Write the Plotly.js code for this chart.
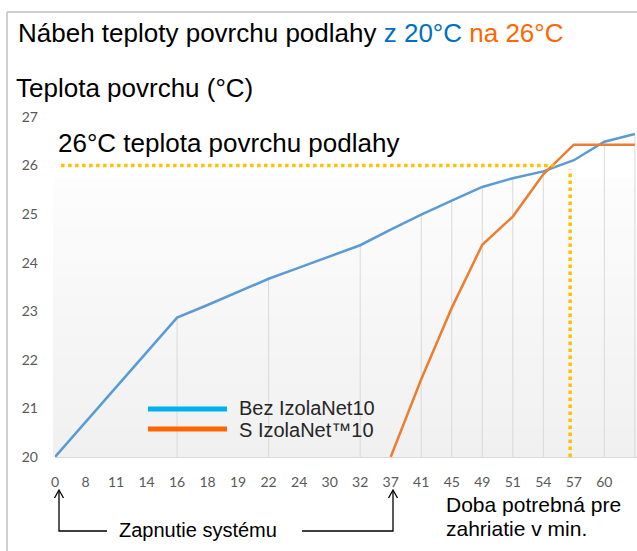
<!DOCTYPE html>
<html><head><meta charset="utf-8">
<script src="https://cdn.plot.ly/plotly-3.0.1.min.js"></script>
<style>html,body{margin:0;padding:0;background:#fff}</style>
</head><body><div id="chart" style="width:637px;height:551px"></div>
<script>
// ---- data ----
const minutes = ['0','8','11','14','16','18','19','22','24','30','32','37','41','45','49','51','54','57','60',''];
const bezIzolaNet = [20, 20.72, 21.44, 22.15, 22.87, 23.13, 23.4, 23.67, 23.9, 24.13, 24.36, 24.68, 24.99, 25.28, 25.56, 25.74, 25.88, 26.11, 26.49, 26.65];
const sIzolaNet = [null, null, null, null, null, null, null, null, null, null, null, 20, 21.6, 23.07, 24.37, 24.95, 25.82, 26.43, 26.43, 26.43];
const dropLineMinutes = ['16','22','32','41','45','49','51','54','60',''];
const yTicks = [20, 21, 22, 23, 24, 25, 26, 27];
const targetTemp = 26;
const seriesNames = ['Bez IzolaNet10', 'S IzolaNet™10'];

// ---- geometry helpers (pixel -> paper) ----
const W = 637, H = 551, L = 55, R = 0, T = 117, B = 94;
const PW = W - L - R, PH = H - T - B;
const px = x => (x - L) / PW;
const py = y => (H - B - y) / PH;

const idx = minutes.map((_, i) => i);
const font = 'Liberation Sans, Arial, sans-serif';
const tickFont = 'Lato, Carlito, Calibri, sans-serif';

const traces = [
  {x: idx, y: bezIzolaNet, mode: 'lines', name: seriesNames[0], line: {color: '#5B9BD5', width: 2.5}, showlegend: false, hoverinfo: 'skip'},
  {x: idx, y: sIzolaNet, mode: 'lines', name: seriesNames[1], line: {color: '#ED7D31', width: 2.5}, showlegend: false, hoverinfo: 'skip'}
];

const shapes = [];
// soft gradient plot background
const bgTop = 177, bgBot = 457, nb = 28;
for (let i = 0; i < nb; i++) {
  const y0 = bgTop + (bgBot - bgTop) * i / nb, y1 = bgTop + (bgBot - bgTop) * (i + 1) / nb;
  const c = Math.round(253 - (253 - 240) * (i + 0.5) / nb);
  shapes.push({type: 'rect', xref: 'paper', yref: 'paper', x0: px(53), x1: px(640), y0: py(y1), y1: py(y0),
    fillcolor: `rgb(${c},${c},${c})`, line: {width: 0}, layer: 'below'});
}
// drop lines from the blue series
dropLineMinutes.forEach(m => {
  const i = minutes.indexOf(m);
  shapes.push({type: 'line', xref: 'x', yref: 'y', x0: i, x1: i, y0: yTicks[0], y1: bezIzolaNet[i],
    line: {color: '#d9d9d9', width: 1}, layer: 'below'});
});
// target dotted lines
shapes.push({type: 'line', xref: 'x', yref: 'y', x0: 0.2, x1: 16.44, y0: targetTemp, y1: targetTemp,
  line: {color: '#FFC000', width: 3.5, dash: '3.5px,3.5px'}});
shapes.push({type: 'line', xref: 'x', yref: 'y', x0: 16.88, x1: 16.88, y0: yTicks[0], y1: 25.92,
  line: {color: '#FFC000', width: 3.5, dash: '3.5px,3.5px'}});
// frame
shapes.push({type: 'line', xref: 'paper', yref: 'paper', x0: px(7), x1: px(640), y0: py(12), y1: py(12), line: {color: '#c0c0c0', width: 1.5}});
shapes.push({type: 'line', xref: 'paper', yref: 'paper', x0: px(7), x1: px(7), y0: py(12), y1: py(555), line: {color: '#c0c0c0', width: 1.5}});
// legend samples
shapes.push({type: 'line', xref: 'paper', yref: 'paper', x0: px(148), x1: px(227), y0: py(409), y1: py(409), line: {color: '#00B0F0', width: 5}});
shapes.push({type: 'line', xref: 'paper', yref: 'paper', x0: px(148), x1: px(227), y0: py(429), y1: py(429), line: {color: '#FF6600', width: 5}});
// arrows
function arrow(xa, xb, yTip, yBot) {
  shapes.push({type: 'path', xref: 'paper', yref: 'paper',
    path: `M${px(xa)},${py(yTip + 1)} L${px(xa)},${py(yBot)} L${px(xb)},${py(yBot)}`, line: {color: '#000', width: 1.3}});
  shapes.push({type: 'path', xref: 'paper', yref: 'paper',
    path: `M${px(xa - 4.5)},${py(yTip + 8)} L${px(xa)},${py(yTip)} L${px(xa + 4.5)},${py(yTip + 8)}`, line: {color: '#000', width: 1.3}});
}
arrow(59, 107, 490, 531);
arrow(393, 302, 490, 531);

const ann = (x, y, text, size, color) => ({xref: 'paper', yref: 'paper', x: px(x), y: py(y), text, showarrow: false,
  xanchor: 'left', yanchor: 'middle', font: {family: font, size, color: color || '#000'}});

const annotations = [
  ann(14, 88, 'Teplota povrchu (°C)', 26),
  ann(56, 143, '26°C teplota povrchu podlahy', 26),
  ann(237, 408, seriesNames[0], 20, '#262626'),
  ann(237, 430, seriesNames[1], 20, '#262626'),
  ann(117, 530, 'Zapnutie systému', 20),
  ann(444, 504, 'Doba potrebná pre', 21),
  ann(444, 528, 'zahriatie v min.', 21)
];

const layout = {
  width: W, height: H,
  margin: {l: L, r: R, t: T, b: B, pad: 0},
  paper_bgcolor: '#fff', plot_bgcolor: 'rgba(0,0,0,0)',
  showlegend: false,
  title: {text: 'Nábeh teploty povrchu podlahy <span style="color:#0070C0">z 20°C</span> <span style="color:#FF6600">na 26°C</span>',
    x: 18 / W, xanchor: 'left', xref: 'container', y: 1 - 33 / H, yanchor: 'middle', yref: 'container',
    font: {family: font, size: 26, color: '#000'}},
  xaxis: {range: [0, idx.length - 1 + 0.07], tickvals: idx, ticktext: minutes, showgrid: false, zeroline: false,
    showline: true, linecolor: '#d9d9d9', linewidth: 1, ticks: '', ticklabelstandoff: 12,
    tickfont: {family: tickFont, size: 14, color: '#595959'}, fixedrange: true},
  yaxis: {range: [20, 27], tickvals: yTicks, showgrid: false, zeroline: false, showline: false, ticks: '',
    ticklabelstandoff: 16, tickfont: {family: tickFont, size: 14, color: '#595959'}, fixedrange: true},
  shapes, annotations
};

Plotly.newPlot('chart', traces, layout, {displayModeBar: false, staticPlot: true});
</script></body></html>
